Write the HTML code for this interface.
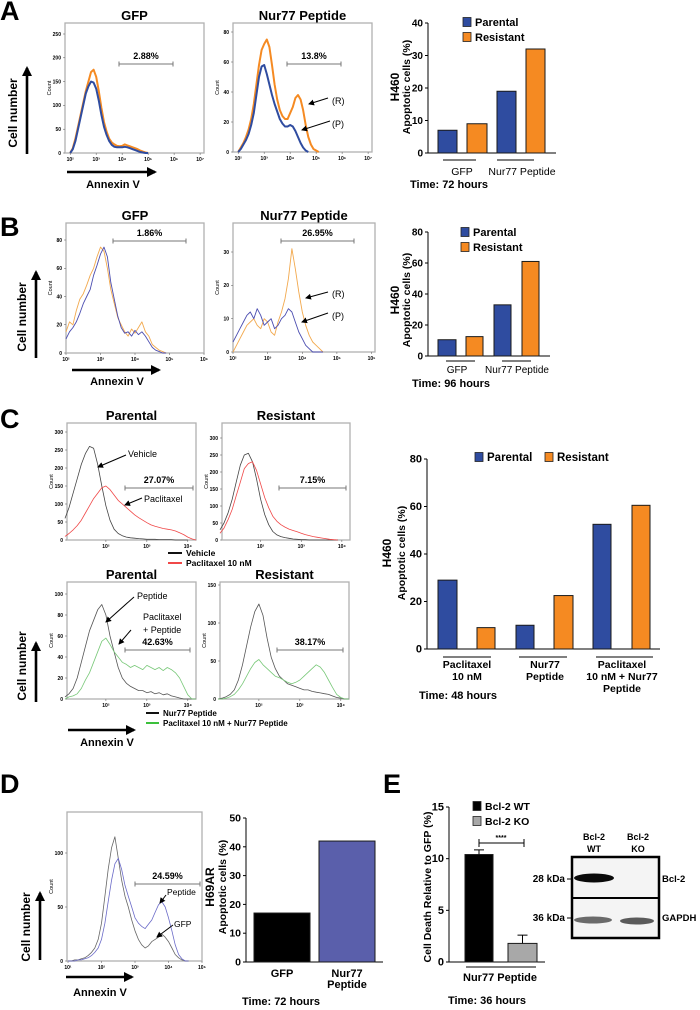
<!DOCTYPE html>
<html><head><meta charset="utf-8">
<style>
html,body{margin:0;padding:0;background:#fff;}
svg{display:block;font-family:"Liberation Sans",Arial,sans-serif;}
</style></head>
<body>
<svg id="fig" width="700" height="1010" viewBox="0 0 700 1010" xmlns="http://www.w3.org/2000/svg">
<defs>
<marker id="ah" markerWidth="6" markerHeight="6" refX="5" refY="3" orient="auto" markerUnits="userSpaceOnUse"><path d="M0,0 L6,3 L0,6 z" fill="#000"/></marker>
<marker id="ahb" markerWidth="10" markerHeight="10" refX="8" refY="5" orient="auto" markerUnits="userSpaceOnUse"><path d="M0,0 L10,5 L0,10 z" fill="#000"/></marker>
</defs>
<g id="root"></g>
</svg>
<script>
// ---------- DATA ----------
const aGfpResistant=[0,10,30,55,80,105,130,150,170,175,160,130,95,65,45,30,22,18,15,14,15,18,16,14,12,10,8,5,3,1,0];
const aGfpParental=[0,8,25,50,75,100,125,140,150,148,135,110,80,55,38,25,17,13,12,12,12,13,12,10,8,6,4,2,1,0,0];
const aPepResistant=[0,3,6,10,15,22,32,45,58,68,72,75,70,58,45,35,28,24,22,22,26,30,36,38,35,28,18,10,5,2,1,0];
const aPepParental=[0,2,5,8,12,18,26,38,50,57,58,52,45,38,32,27,22,19,17,17,18,17,14,10,6,3,1,0];
const bGfpResistant=[15,22,20,30,38,42,48,55,60,68,75,72,60,45,35,25,20,15,12,17,14,18,22,15,12,6,4,2,1,0];
const bGfpParental=[10,15,18,22,28,35,40,45,55,62,70,75,68,50,38,26,18,14,15,12,16,13,15,12,8,4,2,1,0,0];
const bPepResistant=[0,2,4,6,8,9,10,8,7,10,9,6,5,9,12,16,22,31,25,18,12,8,5,3,2,1,0];
const bPepParental=[3,5,7,9,11,12,10,13,11,8,9,10,7,8,10,11,13,12,9,6,4,2,1,0,0,0,0];
const cParVehicle=[60,90,130,170,210,240,260,255,210,150,95,55,30,18,12,8,6,5,4,3,2,2,2,1,1,1,1,0,0,0,0];
const cParPaclitaxel=[10,18,28,40,55,75,95,115,130,145,150,140,125,110,100,90,80,70,62,55,48,42,38,35,32,30,28,25,20,15,8,3,0];
const cResVehicle=[30,50,80,120,170,220,250,255,230,180,120,75,45,25,15,10,7,5,3,2,1,1,0,0,0,0,0,0,0,0];
const cResPaclitaxel=[20,35,60,90,130,170,210,225,230,205,165,125,95,70,55,45,38,32,28,24,20,16,13,10,8,6,4,2,1,0];
const cParPeptide=[2,5,10,20,35,50,65,75,85,90,80,60,45,30,20,15,12,10,8,8,6,7,5,6,4,5,3,2,1,0,0,0,0];
const cParCombo=[0,2,3,5,10,18,25,35,45,55,58,52,45,40,35,33,30,32,30,28,32,30,28,30,27,30,28,25,20,12,4,0,0];
const cResPeptide=[0,1,3,6,12,25,45,70,95,115,125,110,80,55,40,30,25,20,18,16,14,12,12,10,9,8,7,6,4,2,1,0,0];
const cResCombo=[0,0,1,3,6,12,20,30,40,48,52,45,40,35,30,28,25,22,20,22,25,30,35,40,45,42,35,25,15,6,2,0,0];
const dGfp=[0,0,1,1,2,3,5,8,12,20,35,60,85,105,115,95,75,60,50,38,28,20,15,12,14,18,20,22,25,22,18,12,6,3,1,0,0];
const dPeptide=[0,0,0,1,1,2,3,5,8,12,20,35,55,75,90,95,85,70,60,50,40,35,32,30,34,38,45,52,55,50,40,28,15,6,2,0,0];
const aBarValues=[7,9,19,32];
const bBarValues=[10.5,12.5,33,61];
const cParentalValues=[29,10,52.5];
const cResistantValues=[9,22.5,60.5];
const dBarValues=[17,42];
const dCategories=["GFP","Nur77"];
const eBarValues=[10.4,1.8];
const eErrors=[0.45,0.8];
const eCategories=["Bcl-2 WT","Bcl-2 KO"];
const aTicks=[0,10,20,30,40];
const bTicks=[0,20,40,60,80];
const cTicks=[0,20,40,60,80];
const dTicks=[0,10,20,30,40,50];
const eTicks=[0,5,10,15];

// ---------- HELPERS ----------
const NS="http://www.w3.org/2000/svg";
const root=document.getElementById('root');
function el(tag,attrs,parent,text){const e=document.createElementNS(NS,tag);for(const k in attrs)e.setAttribute(k,attrs[k]);if(text!==undefined)e.textContent=text;(parent||root).appendChild(e);return e;}
function grp(name){const g=el('g',{});


return g;}
function txt(g,x,y,s,size,opts){opts=opts||{};const t=el('text',{x:x,y:y,'font-size':size,'font-weight':opts.bold===false?'normal':'bold','text-anchor':opts.anchor||'middle',fill:opts.fill||'#000'},g,s);
if(opts.rot!==undefined)t.setAttribute('transform','rotate('+opts.rot+' '+x+' '+y+')');


return t;}
const SUP={"0":"⁰","1":"¹","2":"²","3":"³","4":"⁴","5":"⁵","6":"⁶","7":"⁷"};

function hist(name,c){
  const g=grp(name);
  const sx=v=>c.x0+(v-c.dom[0])/(c.dom[1]-c.dom[0])*(c.x1-c.x0);
  const sy=v=>c.yb-v/c.ymax*(c.yb-c.yt);
  const fr=el('rect',{x:c.x0,y:c.y0,width:c.x1-c.x0,height:c.yb-c.y0,fill:'none',stroke:'#b0b0b0','stroke-width':1.3},g);
  
  
  (c.yticks||[]).forEach(t=>{el('line',{x1:c.x0-2,x2:c.x0,y1:sy(t),y2:sy(t),stroke:'#555','stroke-width':0.5},g);txt(g,c.x0-4,sy(t)+1.8,String(t),5,{anchor:'end',name:'y-tick-label'});});
  (c.xticks||[]).forEach(t=>{el('line',{x1:sx(t),x2:sx(t),y1:c.yb,y2:c.yb+2,stroke:'#555','stroke-width':0.5},g);txt(g,sx(t),c.yb+8,'10'+SUP[t],5,{name:'x-tick-label'});});
  if(c.count)txt(g,c.x0-14,(c.y0+c.yb)/2,'Count',5.5,{rot:-90,bold:false,name:'count-axis-title'});
  c.series.forEach(s=>{let d='';s.v.forEach((v,i)=>{const lx=s.start+i*s.step;if(lx>c.dom[1])return;d+=(d?'L':'M')+sx(lx).toFixed(1)+','+sy(v).toFixed(1);});
    const p=el('path',{d:d,fill:'none',stroke:s.col,'stroke-width':s.w||1,'stroke-linejoin':'round'},g);
    
    });
  if(c.gate){const[a,b,y,lab]=c.gate;el('line',{x1:a,x2:b,y1:y,y2:y,stroke:'#777','stroke-width':1},g);el('line',{x1:a,x2:a,y1:y-2.5,y2:y+2.5,stroke:'#777'},g);el('line',{x1:b,x2:b,y1:y-2.5,y2:y+2.5,stroke:'#777'},g);txt(g,(a+b)/2,y-5,lab,c.gsize||9,{name:'gate-percent'});}
  if(c.title)txt(g,(c.x0+c.x1)/2,c.y0-3,c.title,c.tsize||13,{name:'plot-title'});
  return g;
}
function arrow(g,x1,y1,x2,y2,big){el('line',{x1:x1,y1:y1,x2:x2,y2:y2,stroke:'#000','stroke-width':big?2.6:1,'marker-end':big?'url(#ahb)':'url(#ah)'},g);}

function bars(name,c){
  const g=grp(name);
  const sy=v=>c.y0-v/c.ymax*(c.y0-c.yt);
  el('line',{x1:c.ax,x2:c.ax,y1:c.y0,y2:c.yt,stroke:'#000','stroke-width':1},g);
  el('line',{x1:c.ax,x2:c.xe,y1:c.y0,y2:c.y0,stroke:'#000','stroke-width':1},g);
  c.ticks.forEach(t=>{el('line',{x1:c.ax-3,x2:c.ax,y1:sy(t),y2:sy(t),stroke:'#000'},g);txt(g,c.ax-5,sy(t)+3.5,String(t),c.tk||10,{anchor:'end',name:'y-tick-label'});});
  c.bars.forEach(b=>{const r=el('rect',{x:b.x,y:sy(b.v),width:b.w,height:c.y0-sy(b.v),fill:b.col,stroke:'#1a1a1a','stroke-width':1},g);
    
    
    if(b.err!==undefined){const cx=b.x+b.w/2;el('line',{x1:cx,x2:cx,y1:sy(b.v),y2:sy(b.v+b.err),stroke:'#000'},g);el('line',{x1:cx-5,x2:cx+5,y1:sy(b.v+b.err),y2:sy(b.v+b.err),stroke:'#000'},g);}});
  return g;
}
function legend(g,x,y,col,lab,size){const r=el('rect',{x:x,y:y-4.5,width:8,height:9,fill:col,stroke:'#222','stroke-width':0.8},g);
  
  
  txt(g,x+12,y+4,lab,size||11,{anchor:'start',name:'legend-label'});}
const BLUE='#2f4ca0',ORANGE='#f58a22';

// ---------- PANEL LABELS ----------
const pl=grp('panel-labels');
[['A',0,20],['B',0,236],['C',0,428],['D',0,793],['E',383,793]].forEach(p=>txt(pl,p[1],p[2],p[0],27,{anchor:'start',name:'panel-label-'+p[0].toLowerCase()}));

// ---------- PANEL A ----------
hist('hist-a-gfp',{x0:65,x1:204,y0:23,yb:153,yt:34,dom:[1.8,7.15],ymax:250,yticks:[0,50,100,150,200,250],xticks:[2,3,4,5,6,7],count:true,title:'GFP',
 series:[{v:aGfpResistant,start:2,step:0.1,col:ORANGE,w:2,name:'resistant-trace'},{v:aGfpParental,start:2,step:0.1,col:BLUE,w:2,name:'parental-trace'}],gate:[119,173,64,'2.88%',10]});
hist('hist-a-peptide',{x0:233,x1:372,y0:23,yb:152,yt:32,dom:[1.8,7.15],ymax:80,yticks:[0,20,40,60,80],xticks:[2,3,4,5,6,7],count:true,title:'Nur77 Peptide',
 series:[{v:aPepResistant,start:2,step:0.1,col:ORANGE,w:2,name:'resistant-trace'},{v:aPepParental,start:2,step:0.1,col:BLUE,w:2,name:'parental-trace'}],gate:[287,341,64,'13.8%',10]});
(function(){const g=grp('panel-a-annotations');
 arrow(g,328,98,309,104);txt(g,332,104,'(R)',9,{anchor:'start',bold:false});
 arrow(g,330,121,302,130);txt(g,332,127,'(P)',9,{anchor:'start',bold:false});
 arrow(g,27,154,27,68,true);txt(g,17,113,'Cell number',12,{rot:-90,name:'y-axis-title'});
 arrow(g,67,172,155,172,true);txt(g,113,188,'Annexin V',11,{name:'x-axis-title'});})();
(function(){const g=bars('bar-chart-a',{ax:428,xe:556,y0:153,yt:23,ymax:40,ticks:aTicks,
 bars:[{x:438,w:19,v:aBarValues[0],col:BLUE,name:'bar-gfp-parental'},{x:467,w:20,v:aBarValues[1],col:ORANGE,name:'bar-gfp-resistant'},{x:497,w:19,v:aBarValues[2],col:BLUE,name:'bar-peptide-parental'},{x:526,w:19,v:aBarValues[3],col:ORANGE,name:'bar-peptide-resistant'}]});
 legend(g,463,22,BLUE,'Parental');legend(g,463,37,ORANGE,'Resistant');
 el('line',{x1:443,x2:476,y1:160,y2:160,stroke:'#000'},g);el('line',{x1:497,x2:534,y1:160,y2:160,stroke:'#000'},g);
 txt(g,462,175,'GFP',10.5,{bold:false,name:'x-category-label'});txt(g,522,175,'Nur77 Peptide',10.5,{bold:false,name:'x-category-label'});
 txt(g,410,188,'Time: 72 hours',11,{anchor:'start',name:'time-label'});
 txt(g,399,87,'H460',12,{rot:-90,name:'y-axis-title'});txt(g,410,87,'Apoptotic cells (%)',10.5,{rot:-90,name:'y-axis-title'});})();

// ---------- PANEL B ----------
hist('hist-b-gfp',{x0:66,x1:204,y0:223,yb:353,yt:240,dom:[2,6],ymax:80,yticks:[0,20,40,60,80],xticks:[2,3,4,5,6],count:true,title:'GFP',
 series:[{v:bGfpResistant,start:2,step:0.1,col:'#f2a94e',w:0.9,name:'resistant-trace'},{v:bGfpParental,start:2,step:0.1,col:'#4b4db0',w:0.9,name:'parental-trace'}],gate:[113,186,241,'1.86%',9]});
hist('hist-b-peptide',{x0:233,x1:375,y0:223,yb:352,yt:252,dom:[2,6.1],ymax:30,yticks:[0,10,20,30],xticks:[2,3,4,5,6],count:true,title:'Nur77 Peptide',
 series:[{v:bPepResistant,start:2,step:0.1,col:'#f2a94e',w:0.9,name:'resistant-trace'},{v:bPepParental,start:2,step:0.1,col:'#4b4db0',w:0.9,name:'parental-trace'}],gate:[281,354,241,'26.95%',9]});
(function(){const g=grp('panel-b-annotations');
 arrow(g,328,292,306,298);txt(g,332,297,'(R)',9,{anchor:'start',bold:false});
 arrow(g,328,313,302,322);txt(g,332,319,'(P)',9,{anchor:'start',bold:false});
 arrow(g,36,358,36,272,true);txt(g,26,317,'Cell number',12,{rot:-90,name:'y-axis-title'});
 arrow(g,72,370,159,370,true);txt(g,117,385,'Annexin V',11,{name:'x-axis-title'});})();
(function(){const g=bars('bar-chart-b',{ax:428,xe:550,y0:356,yt:232,ymax:80,ticks:bTicks,
 bars:[{x:438,w:18,v:bBarValues[0],col:BLUE,name:'bar-gfp-parental'},{x:466,w:17,v:bBarValues[1],col:ORANGE,name:'bar-gfp-resistant'},{x:494,w:17,v:bBarValues[2],col:BLUE,name:'bar-peptide-parental'},{x:522,w:17,v:bBarValues[3],col:ORANGE,name:'bar-peptide-resistant'}]});
 legend(g,461,232,BLUE,'Parental');legend(g,461,247,ORANGE,'Resistant');
 el('line',{x1:446,x2:475,y1:361,y2:361,stroke:'#000'},g);el('line',{x1:502,x2:531,y1:361,y2:361,stroke:'#000'},g);
 txt(g,457,373,'GFP',10,{bold:false,name:'x-category-label'});txt(g,517,373,'Nur77 Peptide',10,{bold:false,name:'x-category-label'});
 txt(g,412,387,'Time: 96 hours',11,{anchor:'start',name:'time-label'});
 txt(g,399,300,'H460',12,{rot:-90,name:'y-axis-title'});txt(g,410,300,'Apoptotic cells (%)',10.5,{rot:-90,name:'y-axis-title'});})();

// ---------- PANEL C ----------
hist('hist-c-parental-paclitaxel',{x0:67,x1:196,y0:423,yb:540,yt:432,dom:[1.05,4.2],ymax:300,yticks:[0,50,100,150,200,250,300],xticks:[2,3,4],count:true,title:'Parental',tsize:13,
 series:[{v:cParVehicle,start:1,step:0.1,col:'#444',w:0.8,name:'vehicle-trace'},{v:cParPaclitaxel,start:1,step:0.1,col:'#f04848',w:0.8,name:'paclitaxel-trace'}],gate:[125,193,488,'27.07%',7.5]});
hist('hist-c-resistant-paclitaxel',{x0:222,x1:350,y0:423,yb:540,yt:438,dom:[1.05,4.2],ymax:300,yticks:[0,50,100,150,200,250,300],xticks:[2,3,4],count:true,title:'Resistant',tsize:13,
 series:[{v:cResVehicle,start:1,step:0.1,col:'#444',w:0.8,name:'vehicle-trace'},{v:cResPaclitaxel,start:1,step:0.1,col:'#f04848',w:0.8,name:'paclitaxel-trace'}],gate:[279,346,488,'7.15%',7.5]});
hist('hist-c-parental-peptide',{x0:67,x1:196,y0:582,yb:699,yt:594,dom:[1.05,4.2],ymax:100,yticks:[0,20,40,60,80,100],xticks:[2,3,4],count:true,title:'Parental',tsize:13,
 series:[{v:cParPeptide,start:1,step:0.1,col:'#555',w:0.8,name:'peptide-trace'},{v:cParCombo,start:1,step:0.1,col:'#78c878',w:0.8,name:'combo-trace'}],gate:[125,190,650,'42.63%',7.5]});
hist('hist-c-resistant-peptide',{x0:220,x1:349,y0:582,yb:699,yt:585,dom:[1.05,4.2],ymax:150,yticks:[0,50,100,150],xticks:[2,3,4],count:true,title:'Resistant',tsize:13,
 series:[{v:cResPeptide,start:1,step:0.1,col:'#555',w:0.8,name:'peptide-trace'},{v:cResCombo,start:1,step:0.1,col:'#78c878',w:0.8,name:'combo-trace'}],gate:[277,343,650,'38.17%',7.5]});
(function(){const g=grp('panel-c-annotations');
 arrow(g,126,455,98,467);txt(g,128,457,'Vehicle',9,{anchor:'start',bold:false});
 arrow(g,142,498,125,505);txt(g,144,502,'Paclitaxel',9,{anchor:'start',bold:false});
 arrow(g,134,597,106,622);txt(g,137,599,'Peptide',9,{anchor:'start',bold:false});
 arrow(g,131,630,119,644);txt(g,143,620,'Paclitaxel',9,{anchor:'start',bold:false});txt(g,143,633,'+ Peptide',9,{anchor:'start',bold:false});
 el('line',{x1:168,x2:182,y1:553,y2:553,stroke:'#111','stroke-width':2},g);txt(g,186,556,'Vehicle',8.5,{anchor:'start',name:'legend-label'});
 el('line',{x1:168,x2:182,y1:563,y2:563,stroke:'#f04848','stroke-width':2},g);txt(g,186,566,'Paclitaxel 10 nM',8.5,{anchor:'start',name:'legend-label'});
 el('line',{x1:146,x2:159,y1:713,y2:713,stroke:'#111','stroke-width':2},g);txt(g,163,716,'Nur77 Peptide',8,{anchor:'start',name:'legend-label'});
 el('line',{x1:146,x2:159,y1:723,y2:723,stroke:'#3cc03c','stroke-width':2},g);txt(g,163,726,'Paclitaxel 10 nM + Nur77 Peptide',8,{anchor:'start',name:'legend-label'});
 arrow(g,36,702,36,643,true);txt(g,26,666,'Cell number',12,{rot:-90,name:'y-axis-title'});
 arrow(g,68,730,134,730,true);txt(g,107,746,'Annexin V',11,{name:'x-axis-title'});})();
(function(){const g=bars('bar-chart-c',{ax:427,xe:660,y0:649,yt:459,ymax:80,ticks:cTicks,tk:11,
 bars:[{x:438,w:19,v:cParentalValues[0],col:BLUE,name:'bar-paclitaxel-parental'},{x:477,w:18,v:cResistantValues[0],col:ORANGE,name:'bar-paclitaxel-resistant'},{x:516,w:18,v:cParentalValues[1],col:BLUE,name:'bar-peptide-parental'},{x:554,w:19,v:cResistantValues[1],col:ORANGE,name:'bar-peptide-resistant'},{x:593,w:18,v:cParentalValues[2],col:BLUE,name:'bar-combo-parental'},{x:632,w:18,v:cResistantValues[2],col:ORANGE,name:'bar-combo-resistant'}]});
 legend(g,475,457,BLUE,'Parental',11.5);legend(g,545,457,ORANGE,'Resistant',11.5);
 [[443,491],[519,567],[596,653]].forEach(u=>el('line',{x1:u[0],x2:u[1],y1:657,y2:657,stroke:'#000'},g));
 txt(g,467,668,'Paclitaxel',10.5,{name:'x-category-label'});txt(g,467,680,'10 nM',10.5,{name:'x-category-label'});
 txt(g,545,668,'Nur77',10.5,{name:'x-category-label'});txt(g,545,680,'Peptide',10.5,{name:'x-category-label'});
 txt(g,622,668,'Paclitaxel',10.5,{name:'x-category-label'});txt(g,622,680,'10 nM + Nur77',10.5,{name:'x-category-label'});txt(g,622,692,'Peptide',10.5,{name:'x-category-label'});
 txt(g,419,699,'Time: 48 hours',11,{anchor:'start',name:'time-label'});
 txt(g,391,553,'H460',12,{rot:-90,name:'y-axis-title'});txt(g,405,553,'Apoptotic cells (%)',10.5,{rot:-90,name:'y-axis-title'});})();

// ---------- PANEL D ----------
hist('hist-d',{x0:67,x1:202,y0:812,yb:961,yt:853,dom:[0.97,5],ymax:100,yticks:[0,50,100],xticks:[1,2,3,4,5],count:true,
 series:[{v:dGfp,start:1,step:0.1,col:'#666',w:0.8,name:'gfp-trace'},{v:dPeptide,start:1,step:0.1,col:'#6a6ac8',w:0.8,name:'peptide-trace'}],gate:[135,200,884,'24.59%',8]});
(function(){const g=grp('panel-d-annotations');
 arrow(g,166,895,160,903);txt(g,167,895,'Peptide',8.5,{anchor:'start',bold:false});
 arrow(g,173,925,157,937);txt(g,174,927,'GFP',8.5,{anchor:'start',bold:false});
 arrow(g,40,960,40,893,true);txt(g,30,927,'Cell number',12,{rot:-90,name:'y-axis-title'});
 arrow(g,66,977,132,977,true);txt(g,100,996,'Annexin V',11,{name:'x-axis-title'});})();
(function(){const g=bars('bar-chart-d',{ax:246,xe:383,y0:962,yt:818,ymax:50,ticks:dTicks,tk:10.5,
 bars:[{x:254,w:56,v:dBarValues[0],col:'#000',name:'bar-gfp'},{x:319,w:56,v:dBarValues[1],col:'#5a5fab',name:'bar-nur77-peptide'}]});
 txt(g,282,977,dCategories[0],11,{name:'x-category-label'});txt(g,347,977,dCategories[1],11,{name:'x-category-label'});txt(g,347,988,'Peptide',11,{name:'x-category-label'});
 txt(g,242,1005,'Time: 72 hours',11,{anchor:'start',name:'time-label'});
 txt(g,214,887,'H69AR',12,{rot:-90,name:'y-axis-title'});txt(g,226,887,'Apoptotic cells (%)',10.5,{rot:-90,name:'y-axis-title'});})();

// ---------- PANEL E ----------
(function(){const g=bars('bar-chart-e',{ax:449,xe:545,y0:962,yt:807,ymax:15,ticks:eTicks,tk:11,
 bars:[{x:465,w:28,v:eBarValues[0],err:eErrors[0],col:'#000',name:'bar-bcl2-wt'},{x:508,w:29,v:eBarValues[1],err:eErrors[1],col:'#a8a8a8',name:'bar-bcl2-ko'}]});
 legend(g,473,806,'#000',eCategories[0],10.5);legend(g,473,821,'#a8a8a8',eCategories[1],10.5);
 el('line',{x1:479,x2:524,y1:843,y2:843,stroke:'#000'},g);el('line',{x1:479,x2:479,y1:839,y2:847,stroke:'#000'},g);el('line',{x1:524,x2:524,y1:839,y2:847,stroke:'#000'},g);
 txt(g,501,840,'****',7,{name:'significance-stars'});
 el('line',{x1:466,x2:536,y1:967,y2:967,stroke:'#000'},g);
 txt(g,500,981,'Nur77 Peptide',11,{name:'x-category-label'});
 txt(g,487,1004,'Time: 36 hours',11,{name:'time-label'});
 txt(g,431,887,'Cell Death Relative to GFP (%)',10.5,{rot:-90,name:'y-axis-title'});})();
(function(){const g=grp('western-blot');
 el('rect',{x:572,y:857,width:87,height:81,fill:'#f4f4f4',stroke:'#000','stroke-width':2.5},g);
 el('line',{x1:572,x2:659,y1:898,y2:898,stroke:'#000','stroke-width':2},g);
 const b1=el('ellipse',{cx:594,cy:878,rx:20,ry:4.5,fill:'#0a0a0a'},g);
 
 
 el('ellipse',{cx:593,cy:920,rx:19,ry:3.5,fill:'#6a6a6a'},g);
 el('ellipse',{cx:637,cy:921,rx:17,ry:3.5,fill:'#5a5a5a'},g);
 txt(g,594,840,'Bcl-2',9,{name:'lane-label'});txt(g,594,852,'WT',9,{name:'lane-label'});
 txt(g,638,840,'Bcl-2',9,{name:'lane-label'});txt(g,638,852,'KO',9,{name:'lane-label'});
 txt(g,565,882,'28 kDa',10,{anchor:'end',name:'mw-label'});el('line',{x1:567,x2:571,y1:879,y2:879,stroke:'#000'},g);
 txt(g,565,921,'36 kDa',10,{anchor:'end',name:'mw-label'});el('line',{x1:567,x2:571,y1:918,y2:918,stroke:'#000'},g);
 txt(g,662,882,'Bcl-2',9.5,{anchor:'start',name:'protein-label'});txt(g,662,921,'GAPDH',9.5,{anchor:'start',name:'protein-label'});})();
</script>
</body></html>
